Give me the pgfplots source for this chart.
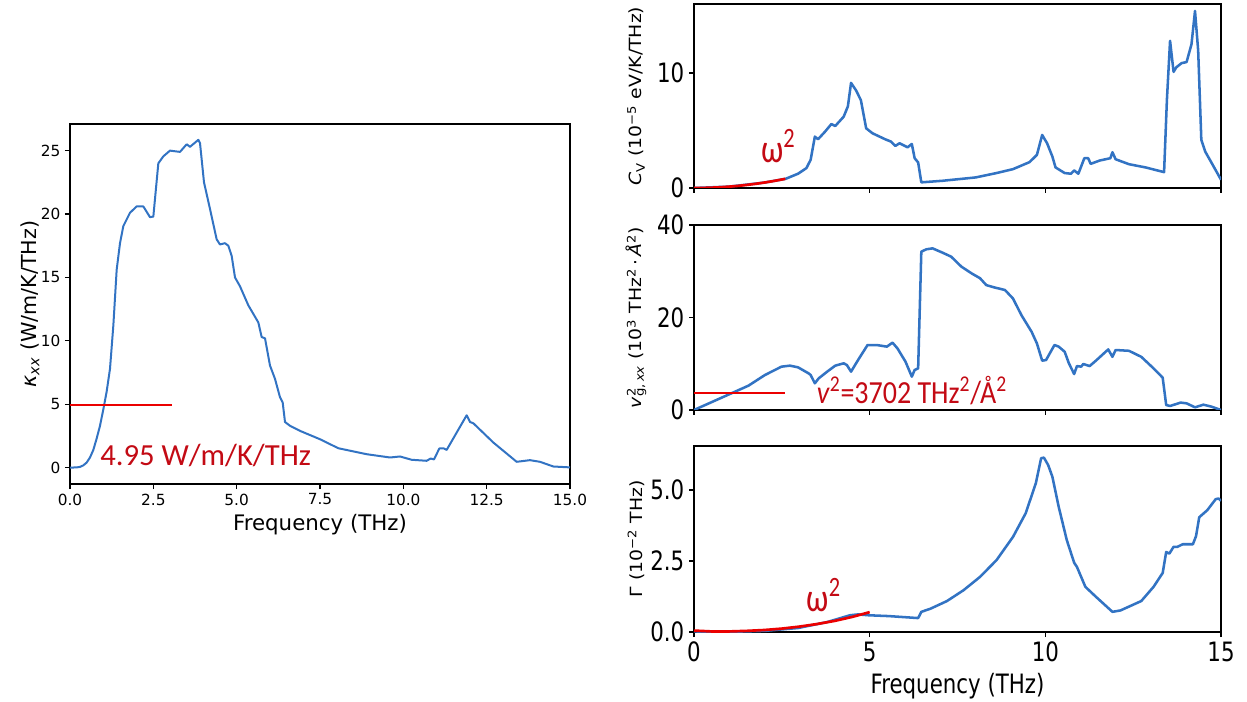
\documentclass[border=0pt]{standalone}
\usepackage{pgfplots}
\pgfplotsset{compat=1.18}
\usepackage{fontspec}
\usepackage{graphicx}
\setmainfont{DejaVu Sans}
\newfontfamily\annfont{Carlito}
\definecolor{cblue}{RGB}{50,115,195}
\definecolor{cred}{RGB}{235,0,0}
\definecolor{tred}{RGB}{195,10,20}
\newcommand\sy[1]{\scalebox{1}[1.25]{#1}}
\newcommand\sx[1]{\scalebox{1.12}[1]{#1}}
\pgfplotsset{
  base/.style={scale only axis, xmin=0, xmax=15, tick align=outside,
    xtick pos=left, ytick pos=left, major tick length=3.75pt,
    axis line style={line width=0.8pt},
    major tick style={black, line width=0.8pt},
    /pgf/number format/assume math mode=true},
  rbase/.style={base, width=395.25pt, xtick={0,5,10,15},
    ticklabel style={font=\fontsize{16}{17}\selectfont},
    ylabel style={at={(axis description cs:-0.11,0.5)}, anchor=center,
      font=\fontsize{12.6}{14}\selectfont}},
  bl/.style={cblue, line width=1.9pt, line join=round, no marks},
}
\begin{document}
\begin{tikzpicture}
\useasboundingbox (0,0) rectangle (935.25pt,-526.5pt);
% ---------------- left panel ----------------
\begin{axis}[base, at={(52.5pt,-363pt)}, anchor=south west,
  width=375pt, height=270pt, ymin=-1.29, ymax=27.1,
  xtick={0,2.5,5,7.5,10,12.5,15},
  xticklabels={0.0,2.5,5.0,7.5,10.0,12.5,15.0},
  ytick={0,5,10,15,20,25}, yticklabels={0,5,10,15,20,25},
  ticklabel style={font=\fontsize{11.5}{12}\selectfont},
  xlabel={Frequency (THz)},
  xlabel style={at={(axis description cs:0.5,-0.114)}, anchor=center, font=\fontsize{16}{18}\selectfont},
  ylabel={\textit{κ}\textsubscript{\textit{xx}} (W/m/K/THz)},
  ylabel style={at={(axis description cs:-0.08,0.5)}, anchor=center, font=\fontsize{15.5}{17}\selectfont},
]
\addplot[cblue, line width=1.5pt, line join=round, no marks] coordinates {
(0,0) (0.2,0.02) (0.3,0.06) (0.4,0.18) (0.5,0.4) (0.6,0.8) (0.7,1.4) (0.8,2.3)
(0.9,3.3) (1.0,4.6) (1.1,6.0) (1.2,7.8) (1.3,11.2) (1.4,15.6)
(1.5,17.7) (1.6,19.05) (1.8,20.1) (2.0,20.6) (2.2,20.6) (2.4,19.75) (2.5,19.8)
(2.65,24.0) (2.8,24.55) (3.0,25.0) (3.3,24.9) (3.5,25.5) (3.6,25.3) (3.85,25.85)
(3.9,25.6) (4.02,22.5) (4.2,20.4) (4.4,18.0) (4.5,17.6) (4.65,17.7) (4.75,17.5)
(4.85,16.7) (4.95,15.0) (5.1,14.3) (5.35,12.8) (5.65,11.45) (5.75,10.3) (5.85,10.2)
(6.0,8.05) (6.15,7.0) (6.3,5.55) (6.38,5.15) (6.45,3.6) (6.6,3.3) (6.9,2.9)
(7.5,2.24) (8.05,1.53) (8.9,1.06) (9.6,0.8) (9.9,0.88) (10.25,0.62) (10.7,0.54)
(10.82,0.72) (10.92,0.65) (11.08,1.51) (11.22,1.51) (11.3,1.4) (11.9,4.13)
(12.0,3.6) (12.1,3.5) (12.7,1.98) (13.4,0.46) (13.8,0.59) (14.1,0.46)
(14.5,0.09) (15.0,0.02)
};
\addplot[cred, line width=1.4pt, no marks] coordinates {(0,4.95) (3.05,4.95)};
\node[anchor=base west, inner sep=0pt, text=tred, font=\annfont\fontsize{23}{24}\selectfont] at (axis cs:0.9,0.13) {4.95 W/m/K/THz};
\end{axis}
% ---------------- top right: Cv ----------------
\begin{axis}[rbase, at={(520.5pt,-141pt)}, anchor=south west,
  height=138pt, ymin=0, ymax=16, xticklabels={},
  ytick={0,10}, yticklabels={\sy{0},\sy{10}},
  ylabel={\sx{\textit{C}\textsubscript{V} (10\textsuperscript{−5} eV/K/THz)}},
]
\addplot[bl] coordinates {
(0,0) (1,0.12) (2,0.47) (2.61,0.8) (2.96,1.24) (3.2,1.73) (3.32,2.45) (3.44,4.47)
(3.53,4.24) (3.73,4.9) (3.91,5.56) (4.02,5.39) (4.26,6.2) (4.38,7.1) (4.47,9.14)
(4.61,8.5) (4.75,7.64) (4.9,5.19) (5.08,4.76) (5.44,4.24) (5.61,4.03) (5.73,3.66)
(5.85,3.89) (6.08,3.54) (6.2,3.83) (6.28,2.59) (6.38,2.22) (6.47,0.49) (7.08,0.63)
(8.02,0.92) (8.61,1.3) (9.08,1.64) (9.55,2.25) (9.76,2.88) (9.91,4.61) (10.05,3.89)
(10.2,2.74) (10.29,1.79) (10.55,1.3) (10.73,1.24) (10.82,1.53) (10.94,1.24)
(11.11,2.59) (11.22,2.59) (11.29,2.1) (11.55,2.39) (11.85,2.59) (11.91,3.11)
(12.0,2.5) (12.38,2.07) (12.85,1.79) (13.38,1.38) (13.46,7.64) (13.55,12.8)
(13.65,10.1) (13.73,10.5) (13.88,10.86) (14.02,10.95) (14.16,12.5) (14.26,15.4)
(14.35,11.96) (14.44,4.18) (14.55,3.17) (14.79,1.87) (15.0,0.72)
};
\addplot[cred, line width=2pt, no marks] coordinates {
(0,0) (0.25,0.007) (0.5,0.03) (0.75,0.066) (1,0.118) (1.25,0.184) (1.5,0.266)
(1.75,0.361) (2,0.472) (2.25,0.597) (2.5,0.738) (2.6,0.8)
};
\node[anchor=base west, inner sep=0pt, text=tred, font=\annfont\fontsize{24}{26}\selectfont] at (axis cs:1.9,2.2) {\sy{ω\textsuperscript{2}}};
\end{axis}
% ---------------- middle right: v^2 ----------------
\begin{axis}[rbase, at={(520.5pt,-307.5pt)}, anchor=south west,
  height=138.75pt, ymin=0, ymax=40, xticklabels={},
  ytick={0,20,40}, yticklabels={\sy{0},\sy{20},\sy{40}},
  ylabel={\sx{\textit{v}\makebox[0pt][l]{\textsuperscript{2}}\textsubscript{g,\,\textit{xx}} (10\textsuperscript{3} THz\textsuperscript{2}\,·\,\textit{Å}\textsuperscript{2})}},
]
\addplot[bl] coordinates {
(0,0) (0.85,2.88) (1.55,5.26) (2.02,7.57) (2.49,9.37) (2.73,9.59) (2.96,9.23)
(3.26,7.93) (3.32,7.57) (3.44,5.77) (3.55,6.85) (3.79,8.29) (4.02,9.59) (4.26,10.09)
(4.35,9.73) (4.47,8.29) (4.67,10.81) (4.94,14.05) (5.2,14.05) (5.49,13.7)
(5.65,14.56) (5.79,13.33) (6.02,10.45) (6.2,7.21) (6.28,8.65) (6.38,9.0)
(6.47,34.23) (6.61,34.74) (6.79,34.95) (7.08,34.0) (7.32,33.15) (7.61,31.0)
(7.91,29.5) (8.14,28.5) (8.32,27.0) (8.55,26.5) (8.85,25.95) (9.08,24.1)
(9.32,20.5) (9.61,16.9) (9.76,14.4) (9.91,10.67) (10.02,10.8) (10.26,14.05)
(10.38,13.7) (10.55,12.6) (10.67,10.1) (10.82,7.78) (10.9,9.5) (11.02,9.37)
(11.08,9.95) (11.26,9.5) (11.44,10.67) (11.79,13.1) (11.91,11.5) (12.0,12.97)
(12.38,12.8) (12.73,11.5) (13.08,9.0) (13.34,6.99) (13.44,1.08) (13.55,0.86)
(13.85,1.6) (14.02,1.44) (14.26,0.58) (14.5,1.15) (14.73,0.72) (15.0,0.0)
};
\addplot[cred, line width=2pt, no marks] coordinates {(0,3.702) (2.6,3.702)};
\node[anchor=base west, inner sep=0pt, text=tred, font=\annfont\fontsize{21}{23}\selectfont] at (axis cs:3.49,1.44) {\scalebox{1}[1.15]{\textit{v}\textsuperscript{2}=3702 THz\textsuperscript{2}/Å\textsuperscript{2}}};
\end{axis}
% ---------------- bottom right: Gamma ----------------
\begin{axis}[rbase, at={(520.5pt,-474pt)}, anchor=south west,
  height=139.5pt, ymin=0, ymax=6.55,
  xticklabels={\sy{0},\sy{5},\sy{10},\sy{15}},
  ytick={0,2.5,5}, yticklabels={\sy{0.0},\sy{2.5},\sy{5.0}},
  xlabel={\sy{Frequency (THz)}},
  xlabel style={at={(axis description cs:0.5,-0.29)}, anchor=center, font=\fontsize{16}{18}\selectfont},
  ylabel={\sx{Γ (10\textsuperscript{−2} THz)}},
]
\addplot[bl] coordinates {
(0,0.02) (0.85,0.0) (2.02,0.04) (2.96,0.14) (3.79,0.35) (4.44,0.59) (4.67,0.62)
(4.96,0.59) (5.55,0.56) (6.38,0.49) (6.47,0.71) (6.73,0.82) (7.2,1.09) (7.67,1.47)
(8.14,1.94) (8.61,2.53) (9.08,3.35) (9.44,4.18) (9.73,5.24) (9.88,6.12) (9.96,6.14)
(10.08,5.88) (10.2,5.47) (10.38,4.41) (10.61,3.24) (10.82,2.44) (10.9,2.29)
(11.14,1.59) (11.44,1.24) (11.91,0.71) (12.14,0.76) (12.73,1.09) (13.08,1.59)
(13.34,2.08) (13.44,2.82) (13.53,2.76) (13.65,3.0) (13.76,3.0) (13.91,3.09)
(14.2,3.09) (14.29,3.38) (14.38,4.04) (14.61,4.29) (14.85,4.68) (14.93,4.7) (15.0,4.62)
};
\addplot[cred, line width=2pt, no marks] coordinates {
(0,0.05) (0.5,0.02) (1,0.02) (1.5,0.04) (2,0.07) (2.5,0.12) (3,0.19) (3.5,0.28)
(4,0.39) (4.5,0.53) (5,0.70)
};
\node[anchor=base west, inner sep=0pt, text=tred, font=\annfont\fontsize{24}{26}\selectfont] at (axis cs:3.2,0.71) {\sy{ω\textsuperscript{2}}};
\end{axis}
\end{tikzpicture}
\end{document}
